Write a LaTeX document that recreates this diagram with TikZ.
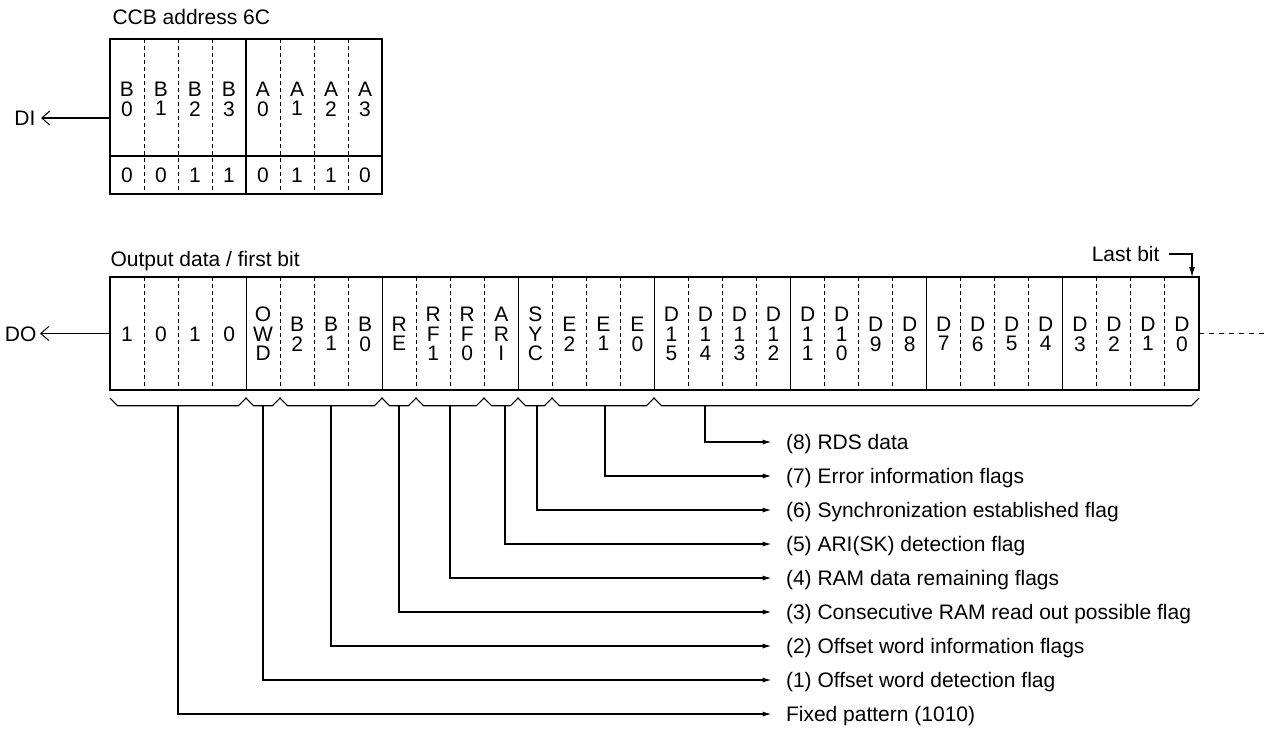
\documentclass[tikz,border=0pt]{standalone}
\usepackage{fontspec}
\setmainfont{Liberation Sans}
\usetikzlibrary{arrows.meta}

\newcommand\bitstack[1]{\begin{tabular}{@{}c@{}}#1\end{tabular}}

\begin{document}
\begin{tikzpicture}
  [x=1pt, y=-1pt, line width=1.1pt,
   font=\fontsize{21}{17}\selectfont,
   bit/.style={inner sep=0pt},
   sep/.style={line width=0.9pt, dash pattern=on 4pt off 3pt},
   txt/.style={inner sep=0pt, text height=15pt, text depth=0pt},
   port/.style={-{Straight Barb[length=8pt, width=14pt, line width=1pt]}},
   tag/.style={-{Latex[length=9pt, width=5pt]}}]
  \useasboundingbox (0,0) rectangle (1277,729);

  % CCB address register
  \node [txt, anchor=west] (ccbtitle) at (112,17) {CCB address 6C};
  \draw (110,39) rectangle (382,194);
  \draw (110,156) -- (382,156);
  \foreach \k in {1,2,3,5,6,7}
    \draw [sep] (110+34*\k,39) -- (110+34*\k,194);
  \draw (246,39) -- (246,194);
  \foreach \t [count=\i from 0] in {{B\\0},{B\\1},{B\\2},{B\\3},{A\\0},{A\\1},{A\\2},{A\\3}}
    \node [bit] (ccb-\i) at (127+34*\i,101.5) {\bitstack{\t}};
  \foreach \v [count=\i from 0] in {0,0,1,1,0,1,1,0}
    \node [bit] (ccbv-\i) at (127+34*\i,177.5) {\bitstack{\v}};
  \coordinate (ccbin) at (110,118);
  \node [txt, anchor=east] (di) at (36,118) {DI};
  \draw [port, shorten >=5pt] (ccbin) -- (di.east);

  % output data
  \node [txt, anchor=west] (outtitle) at (110,259) {Output data / first bit};
  \draw (110,277) rectangle (1199,390);
  \foreach \k in {1,...,31}
    \draw [sep] (110+34.03*\k,277) -- (110+34.03*\k,390);
  \foreach \k in {4,8,...,28}
    \draw (110+34.03*\k,277) -- (110+34.03*\k,390);
  \foreach \t [count=\i from 0] in {1,0,1,0,{O\\W\\D},{B\\2},{B\\1},{B\\0},
      {R\\E},{R\\F\\1},{R\\F\\0},{A\\R\\I},{S\\Y\\C},{E\\2},{E\\1},{E\\0},
      {D\\1\\5},{D\\1\\4},{D\\1\\3},{D\\1\\2},{D\\1\\1},{D\\1\\0},{D\\9},{D\\8},
      {D\\7},{D\\6},{D\\5},{D\\4},{D\\3},{D\\2},{D\\1},{D\\0}}
    \node [bit] (do-\i) at (127+34.03*\i,336.5) {\bitstack{\t}};
  \coordinate (doin) at (110,333.5);
  \node [txt, anchor=east] (do) at (37,333.5) {DO};
  \draw [port, shorten >=3pt] (doin) -- (do.east);
  \draw [line width=0.9pt, dash pattern=on 5pt off 5pt] (1199,333.5) -- (1267,333.5);

  \coordinate (lastcell) at (1192,277);
  \node [txt, anchor=east] (last) at (1160,254) {Last bit};
  \draw [-{Latex[length=10pt, width=6pt]}] ([xshift=9pt]last.east) -| (lastcell);

  % grouping brace
  \draw (110,398) -- (117.5,405.7)
    \foreach \p in {246,280,382,416,484,518,552,654} { -- (\p-7.5,405.7) -- (\p,398) -- (\p+7.5,405.7) }
    -- (1191.5,405.7) -- (1199,398);

  % field descriptions
  \foreach \sx/\t [count=\i, evaluate=\i as \ly using 408+34*\i] in
      {705/{(8) RDS data}, 605/{(7) Error information flags},
       537/{(6) Synchronization established flag}, 505/{(5) ARI(SK) detection flag},
       450/{(4) RAM data remaining flags}, 399/{(3) Consecutive RAM read out possible flag},
       331/{(2) Offset word information flags}, 263/{(1) Offset word detection flag},
       178/{Fixed pattern (1010)}} {
    \coordinate (stem-\i) at (\sx,405.7);
    \node [txt, anchor=west] (field-\i) at (785.5,\ly) {\t};
    \draw [tag] (stem-\i) |- ([xshift=-14pt]field-\i.west);
  }
\end{tikzpicture}
\end{document}
